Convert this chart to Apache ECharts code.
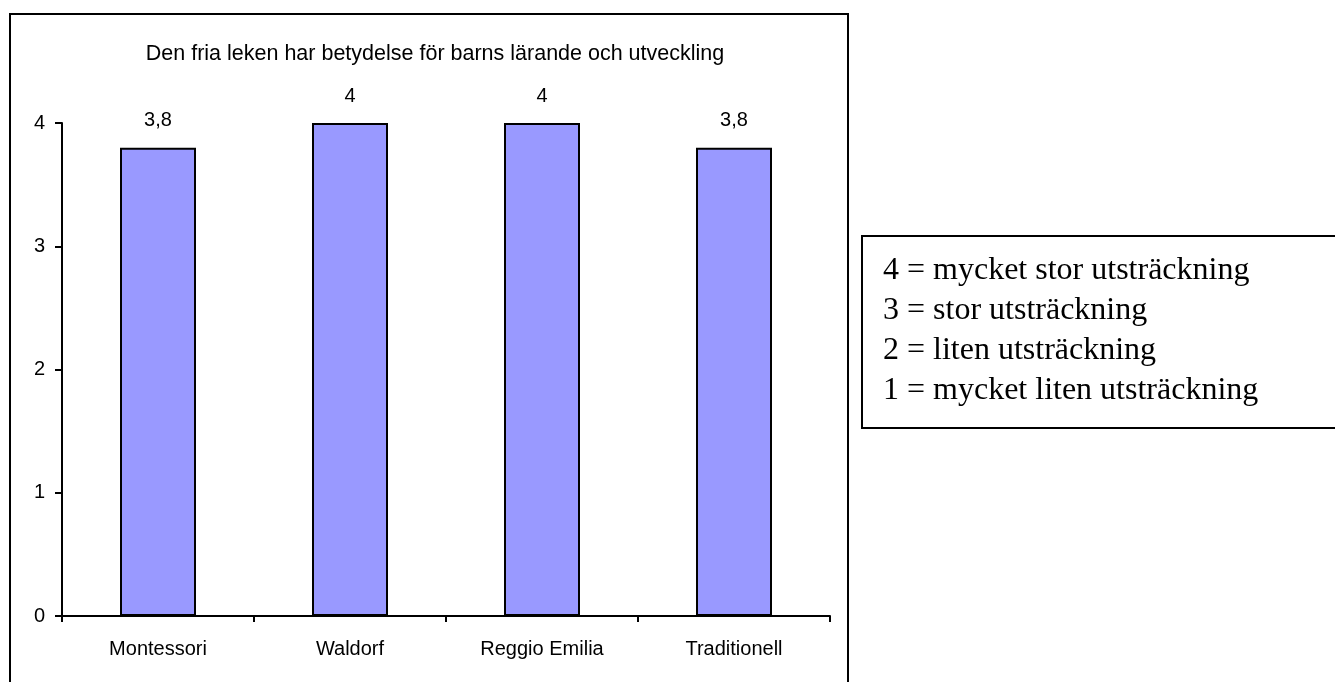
<!DOCTYPE html>
<html>
<head>
<meta charset="utf-8">
<style>
  html, body { margin: 0; padding: 0; background: #fff; }
  #chart { width: 1335px; height: 682px; }
</style>
<script src="https://cdn.jsdelivr.net/npm/echarts@6/dist/echarts.min.js"></script>
</head>
<body>
<div id="chart"></div>
<script>
// Mean ratings per preschool pedagogy
const categories = ['Montessori', 'Waldorf', 'Reggio Emilia', 'Traditionell'];
const values = [3.8, 4, 4, 3.8];
const yTicks = [0, 1, 2, 3, 4];
const titleText = 'Den fria leken har betydelse för barns lärande och utveckling';
const scaleLines = [
  '4 = mycket stor utsträckning',
  '3 = stor utsträckning',
  '2 = liten utsträckning',
  '1 = mycket liten utsträckning'
];

const sans = '"Liberation Sans", Arial, sans-serif';
const serif = '"Liberation Serif", "Times New Roman", serif';

const chart = echarts.init(document.getElementById('chart'), null, { renderer: 'canvas' });

// Scale explanation box, one text line per rating
const scaleText = scaleLines.map((line, i) => ({
  type: 'text',
  x: 883,
  y: 271 + i * 40,
  style: {
    text: line,
    font: '32px ' + serif,
    fill: '#000',
    textVerticalAlign: 'middle'
  },
  silent: true
}));

chart.setOption({
  animation: false,
  backgroundColor: '#fff',
  title: {
    text: titleText,
    left: 430,
    top: 38,
    textAlign: 'center',
    textStyle: { fontFamily: sans, fontSize: 21.5, fontWeight: 'normal', color: '#000' }
  },
  grid: { left: 62, right: 505, top: 123, bottom: 66, containLabel: false },
  xAxis: {
    type: 'category',
    data: categories,
    axisLine: { lineStyle: { color: '#000', width: 2 } },
    axisTick: { show: true, inside: false, length: 6, lineStyle: { color: '#000', width: 2 } },
    axisLabel: { color: '#000', fontFamily: sans, fontSize: 20, margin: 23 }
  },
  yAxis: {
    type: 'value',
    min: 0,
    max: 4,
    interval: 1,
    axisLine: { show: true, lineStyle: { color: '#000', width: 2 } },
    axisTick: { show: true, length: 7, lineStyle: { color: '#000', width: 2 } },
    splitLine: { show: false },
    axisLabel: {
      color: '#000', fontFamily: sans, fontSize: 20, margin: 17,
      formatter: v => yTicks.includes(v) ? String(v) : ''
    }
  },
  series: [{
    type: 'bar',
    data: values,
    barWidth: 76,
    itemStyle: { color: '#9999FF', borderColor: '#000', borderWidth: 2 },
    label: {
      show: true,
      position: 'top',
      distance: 17,
      color: '#000',
      fontFamily: sans,
      fontSize: 20,
      formatter: p => String(p.value).replace('.', ',')
    }
  }],
  graphic: [
    {
      type: 'rect',
      shape: { x: 10, y: 14, width: 838, height: 700 },
      style: { fill: 'none', stroke: '#000', lineWidth: 2 },
      silent: true
    },
    {
      type: 'rect',
      shape: { x: 862, y: 236, width: 500, height: 192 },
      style: { fill: '#fff', stroke: '#000', lineWidth: 2 },
      silent: true
    }
  ].concat(scaleText)
});
</script>
</body>
</html>
